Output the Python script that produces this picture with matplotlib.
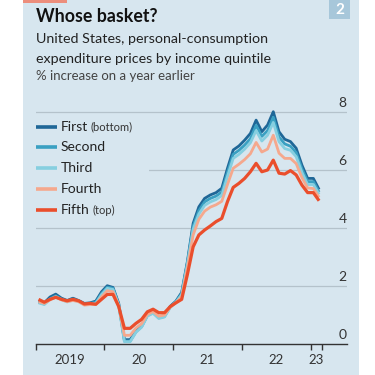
import matplotlib
matplotlib.use("Agg")
import matplotlib.pyplot as plt
import matplotlib.transforms as mtransforms
from matplotlib.patches import Rectangle

plt.rcParams['font.family'] = ['Lato', 'DejaVu Sans']

# ---- data (monthly, Jan 2019 - Feb 2023) ----
start_year = 2019
first = [1.48, 1.42, 1.62, 1.72, 1.58, 1.50, 1.58, 1.50, 1.40, 1.42, 1.48, 1.80,
         2.01, 1.95, 1.40, 0.15, 0.15, 0.45, 0.62, 1.00, 1.10, 0.92, 0.98, 1.30,
         1.48, 1.78, 2.85, 4.16, 4.73, 5.02, 5.14, 5.22, 5.37, 6.06, 6.69, 6.83,
         7.03, 7.26, 7.72, 7.32, 7.55, 8.01, 7.32, 7.06, 6.98, 6.75, 6.17, 5.71,
         5.71, 5.33]
second = [1.44, 1.38, 1.56, 1.66, 1.55, 1.47, 1.55, 1.48, 1.38, 1.40, 1.44, 1.74,
          1.96, 1.92, 1.36, 0.10, 0.10, 0.42, 0.60, 0.98, 1.08, 0.90, 0.95, 1.28,
          1.46, 1.74, 2.80, 4.06, 4.60, 4.90, 5.02, 5.10, 5.24, 5.92, 6.54, 6.68,
          6.86, 7.08, 7.54, 7.16, 7.36, 7.82, 7.14, 6.90, 6.82, 6.60, 6.04, 5.60,
          5.60, 5.24]
third = [1.42, 1.36, 1.54, 1.63, 1.53, 1.45, 1.52, 1.46, 1.36, 1.38, 1.40, 1.70,
         1.92, 1.88, 1.34, 0.08, 0.08, 0.40, 0.58, 0.96, 1.06, 0.88, 0.93, 1.26,
         1.44, 1.70, 2.75, 3.96, 4.48, 4.78, 4.90, 4.98, 5.12, 5.78, 6.40, 6.54,
         6.72, 6.94, 7.36, 7.00, 7.20, 7.64, 6.98, 6.74, 6.68, 6.46, 5.92, 5.50,
         5.50, 5.16]
fourth = [1.46, 1.40, 1.52, 1.62, 1.52, 1.46, 1.50, 1.46, 1.34, 1.36, 1.36, 1.62,
          1.84, 1.80, 1.32, 0.30, 0.30, 0.55, 0.70, 1.02, 1.12, 0.96, 1.00, 1.27,
          1.43, 1.62, 2.62, 3.76, 4.30, 4.58, 4.72, 4.80, 4.92, 5.50, 6.06, 6.20,
          6.36, 6.56, 6.95, 6.62, 6.72, 7.20, 6.58, 6.40, 6.40, 6.22, 5.74, 5.38,
          5.36, 5.06]
fifth = [1.54, 1.44, 1.54, 1.61, 1.54, 1.49, 1.54, 1.49, 1.38, 1.40, 1.37, 1.54,
         1.71, 1.71, 1.29, 0.54, 0.54, 0.71, 0.85, 1.11, 1.20, 1.08, 1.08, 1.29,
         1.42, 1.54, 2.40, 3.35, 3.76, 3.93, 4.07, 4.22, 4.33, 4.91, 5.40, 5.54,
         5.71, 5.94, 6.23, 5.94, 6.00, 6.34, 5.89, 5.86, 5.98, 5.83, 5.48, 5.22,
         5.22, 4.94]

series_names = ["First", "Second", "Third", "Fourth", "Fifth"]
series_notes = ["(bottom)", "", "", "", "(top)"]
series_values = [first, second, third, fourth, fifth]
colors = ["#1f6797", "#3aa0c2", "#86cfe0", "#f5a88d", "#ea4e2c"]
widths = [2.0, 2.0, 2.0, 2.0, 2.3]

year_ticks = [2019, 2020, 2021, 2022, 2023, 2023.17]
year_labels = ["2019", "20", "21", "22", "23"]
year_label_pos = [2019.5, 2020.5, 2021.5, 2022.5, 2023.085]
y_ticks = [0, 2, 4, 6, 8]

W = H = 375.0
bg = "#d7e6ef"
grid_c = "#b4c2cb"

fig = plt.figure(figsize=(3.75, 3.75), dpi=100)
fig.patch.set_facecolor("white")
# panel background
fig.add_artist(Rectangle((23 / W, 0), (359 - 23) / W, 1, transform=fig.transFigure,
                         facecolor=bg, edgecolor="none", zorder=0))
# red tag
fig.add_artist(Rectangle((23 / W, 1 - 2.5 / H), 44 / W, 2.5 / H, transform=fig.transFigure,
                         facecolor="#ec8e7c", edgecolor="none", zorder=1))
# number box
fig.add_artist(Rectangle((329 / W, 1 - 19 / H), 21 / W, 19 / H, transform=fig.transFigure,
                         facecolor="#a7c7da", edgecolor="none", zorder=1))
fig.text(339.5 / W, 1 - 9.5 / H, "2", color="white", fontsize=11, fontweight="bold",
         ha="center", va="center")

fig.text(36 / W, 1 - 21.5 / H, "Whose basket?", fontsize=12.8, fontweight="bold",
         color="#111111", ha="left", va="baseline")
fig.text(36 / W, 1 - 43 / H, "United States, personal-consumption", fontsize=10.3,
         color="#222222", ha="left", va="baseline")
fig.text(36 / W, 1 - 63 / H, "expenditure prices by income quintile", fontsize=10.3,
         color="#222222", ha="left", va="baseline")
fig.text(36 / W, 1 - 80 / H, "% increase on a year earlier", fontsize=9.5,
         color="#444444", ha="left", va="baseline")

# axes
x0, x1 = 35.7, 346.7
px_per_year = 68.7
ybase, px_per_unit = 344.0, 29.0
ymax = 8.3
ax = fig.add_axes([x0 / W, (H - ybase) / H, (x1 - x0) / W, ymax * px_per_unit / H])
ax.set_facecolor("none")
ax.set_xlim(start_year, start_year + (x1 - x0) / px_per_year)
ax.set_ylim(0, ymax)
for s in ["top", "right", "left"]:
    ax.spines[s].set_visible(False)
ax.spines["bottom"].set_color("#333333")
ax.spines["bottom"].set_linewidth(1.0)
ax.spines["bottom"].set_zorder(6)

ax.set_yticks([])
for v in y_ticks[1:]:
    ax.axhline(v, color=grid_c, lw=0.9, zorder=1)
trans = mtransforms.blended_transform_factory(ax.transAxes, ax.transData)
for v in y_ticks:
    ax.text(1.0, v + 0.1, str(v), transform=trans, ha="right", va="bottom",
            fontsize=10, color="#333333")

ax.set_xticks(year_ticks)
ax.set_xticklabels([])
ax.tick_params(axis="x", length=4.5, width=1.0, color="#333333", direction="out")
ax.set_xticks(year_label_pos, minor=True)
ax.set_xticklabels(year_labels, minor=True)
ax.tick_params(axis="x", which="minor", length=0, labelsize=9.5, labelcolor="#333333", pad=7)

xs = [start_year + (i + 0.5) / 12 for i in range(len(first))]
for vals, c, lw in zip(series_values, colors, widths):
    ax.plot(xs, vals, color=c, lw=lw, zorder=3, solid_joinstyle="round",
            solid_capstyle="butt", clip_on=False)

# legend block (covers gridlines)
ax.add_artist(Rectangle((x0 / W, 1 - 218 / H), (149 - x0) / W, (218 - 117) / H,
                        transform=fig.transFigure, facecolor=bg, edgecolor="none", zorder=2))
rows = [126.7, 147.4, 168.2, 189.0, 209.8]
for name, note, c, y in zip(series_names, series_notes, colors, rows):
    yf = 1 - y / H
    fig.add_artist(plt.Line2D([36 / W, 57 / W], [yf, yf], transform=fig.transFigure,
                              color=c, lw=2.6, solid_capstyle="butt", zorder=5))
    t = fig.text(61 / W, yf, name, fontsize=10, color="#222222", ha="left", va="center")
    if note:
        fig.canvas.draw()
        bb = t.get_window_extent()
        fig.text(bb.x1 / W + 2.5 / W, yf - 0.5 / H, note, fontsize=8, color="#333333",
                 ha="left", va="center")

fig.savefig("out.png", dpi=100, facecolor="white")
